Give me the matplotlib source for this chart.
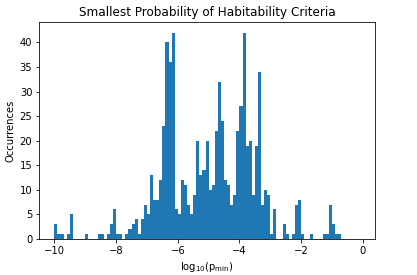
import numpy as np
import matplotlib
matplotlib.use("Agg")
import matplotlib.pyplot as plt

# histogram of log10(p_min), 100 bins of width 0.1 from -10 to 0
bin_edges = np.round(np.linspace(-10, 0, 101), 2)
counts = [3, 1, 1, 0, 1, 5, 0, 0, 0, 0,
          1, 0, 0, 0, 1, 1, 0, 1, 3, 6,
          1, 1, 0, 1, 2, 3, 4, 1, 4, 7,
          5, 13, 8, 8, 12, 23, 40, 36, 42, 6,
          5, 12, 11, 7, 5, 9, 20, 13, 14, 20,
          10, 11, 22, 32, 24, 12, 11, 7, 9, 22,
          27, 42, 19, 20, 9, 19, 34, 7, 10, 9,
          1, 6, 0, 0, 3, 1, 0, 1, 7, 8,
          1, 0, 0, 1, 0, 0, 0, 1, 1, 7,
          3, 1, 1, 0, 0, 0, 0, 0, 0, 0]

centers = (bin_edges[:-1] + bin_edges[1:]) / 2

dpi = 72
fig = plt.figure(figsize=(417 / dpi, 275 / dpi), dpi=dpi)
ax = fig.add_axes([0.0942, 0.131, 0.804, 0.788])

ax.hist(centers, bins=bin_edges, weights=counts)
ax.set_xlim(-10.49, 0.38)

ax.set_title("Smallest Probability of Habitability Criteria")
ax.set_ylabel("Occurrences")
ax.set_xlabel(r"log$_{10}$(p$_{\mathrm{min}}$)")

fig.savefig("out.png", dpi=dpi)
